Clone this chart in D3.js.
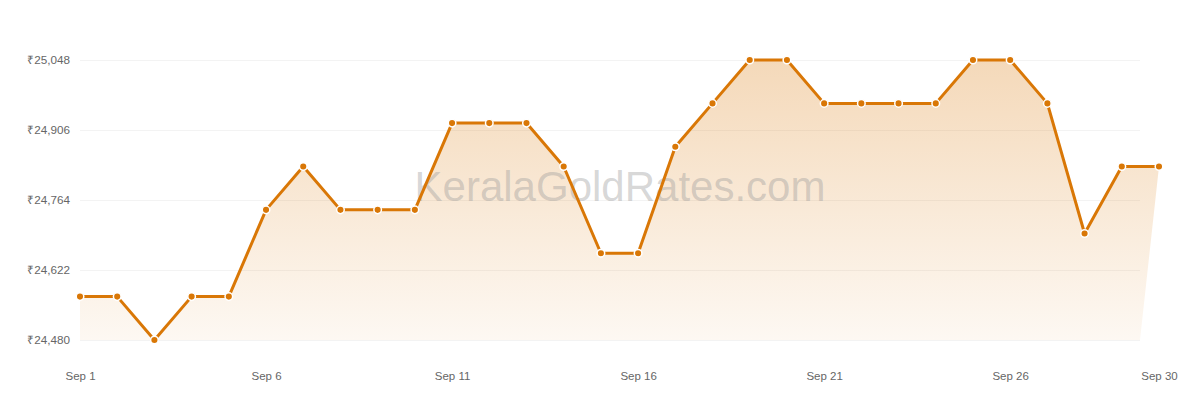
<!DOCTYPE html>
<html><head><meta charset="utf-8">
<script src="https://cdn.jsdelivr.net/npm/d3@7"></script>
<style>
html,body{margin:0;padding:0;background:#fff;}
svg{display:block;font-family:"Liberation Sans",Arial,Helvetica,sans-serif;}
</style></head>
<body>
<svg id="chart" width="1200" height="400"></svg>
<script>
const days = d3.range(1, 31);
const prices = [24568,24568,24480,24568,24568,24744,24832,24744,24744,24744,
  24920,24920,24920,24832,24656,24656,24872,24960,25048,25048,
  24960,24960,24960,24960,25048,25048,24960,24696,24832,24832];
const yTicks = [24480,24622,24764,24906,25048];
const xTickDays = [1,6,11,16,21,26,30];
const monthLabel = "Sep";
const watermark = "KeralaGoldRates.com";

const data = days.map((d,i)=>({day:d, v:prices[i]}));
const svg = d3.select("#chart");
const x = d3.scaleLinear().domain([1,30]).range([80,1159]);
const y = d3.scaleLinear().domain([24480,25048]).range([340,60]);
const gridRight = 1140;
const lineColor = "#d97706";

const defs = svg.append("defs");
const grad = defs.append("linearGradient").attr("id","ag").attr("x1",0).attr("y1",0).attr("x2",0).attr("y2",1);
grad.append("stop").attr("offset","0%").attr("stop-color",lineColor).attr("stop-opacity",0.28);
grad.append("stop").attr("offset","100%").attr("stop-color",lineColor).attr("stop-opacity",0.05);

// grid
const yAxis = d3.axisLeft(y).tickValues(yTicks).tickSize(-(gridRight-80)).tickPadding(10)
  .tickFormat(d=>"₹"+d3.format(",")(d));
const gy = svg.append("g").attr("transform","translate(80,0)").call(yAxis);
gy.select(".domain").remove();
gy.selectAll(".tick line").attr("stroke","#f3f3f3").attr("stroke-width",1);
gy.selectAll(".tick text").attr("fill","#666").attr("font-size","11.7px");

// area
const area = d3.area()
  .x0(d=>Math.min(x(d.day), gridRight))
  .x1(d=>x(d.day))
  .y0(y(24480)).y1(d=>y(d.v));
svg.append("path").datum(data).attr("d",area).attr("fill","url(#ag)");

// watermark
svg.append("text").attr("x",620).attr("y",201).attr("text-anchor","middle")
  .attr("font-size","42px").attr("fill","#999").attr("fill-opacity",0.4).text(watermark);

// line
const line = d3.line().x(d=>x(d.day)).y(d=>y(d.v));
svg.append("path").datum(data).attr("d",line).attr("fill","none")
  .attr("stroke",lineColor).attr("stroke-width",3).attr("stroke-linejoin","round");

svg.selectAll("circle.pt").data(data).join("circle").attr("class","pt")
  .attr("cx",d=>x(d.day)).attr("cy",d=>y(d.v)).attr("r",3.8)
  .attr("fill",lineColor).attr("stroke","#fff").attr("stroke-width",1.5);

// x axis
const xAxis = d3.axisBottom(x).tickValues(xTickDays).tickSize(0).tickPadding(0)
  .tickFormat(d=>monthLabel+" "+d);
const gx = svg.append("g").attr("transform","translate(0,380)").call(xAxis);
gx.select(".domain").remove();
gx.selectAll(".tick text").attr("fill","#666").attr("font-size","11.5px").attr("dy","0");
</script>
</body></html>
